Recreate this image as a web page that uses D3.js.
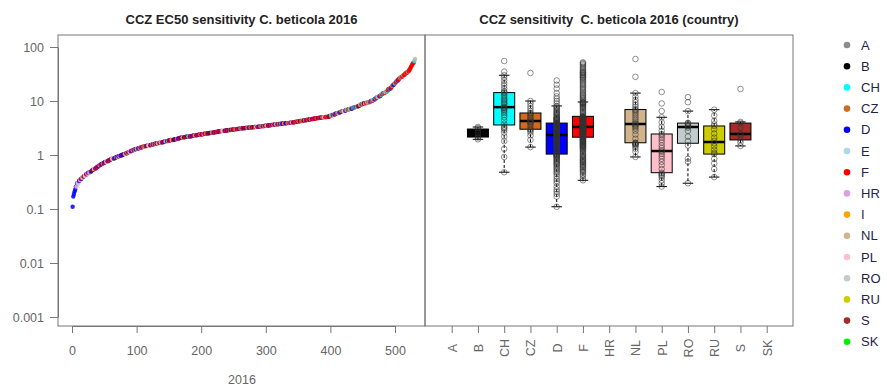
<!DOCTYPE html>
<html><head><meta charset="utf-8">
<script src="https://cdn.jsdelivr.net/npm/d3@7"></script>
<style>body{margin:0;background:#fff} svg{display:block;font-family:"Liberation Sans",Arial,sans-serif}</style>
</head><body><svg id="c" width="887" height="386"></svg>
<script>
// ---- data ----
const legendCountries = ["A","B","CH","CZ","D","E","F","HR","I","NL","PL","RO","RU","S","SK"];
const legendColors = ["#8c8c8c","#000000","#00FFFF","#D2691E","#0000FF","#ADD8E6","#FF0000","#DDA0DD","#FFA500","#D2B48C","#FFC0CB","#C1CDCD","#CDCD00","#A52A2A","#00EE00"];
const axisCountries = ["A","B","CH","CZ","D","F","HR","NL","PL","RO","RU","S","SK"];
const yTicks = [0.001, 0.01, 0.1, 1, 10, 100];
const yTickLabels = ["0.001","0.01","0.1","1","10","100"];
const xTicks = [0, 100, 200, 300, 400, 500];
const titleLeft = "CCZ EC50 sensitivity C. beticola 2016";
const titleRight = "CCZ sensitivity  C. beticola 2016 (country)";
const xLabelLeft = "2016";

const valuesB = [1.95, 2.1, 2.2, 2.55, 2.9, 3.15, 3.3];
const valuesCH = [0.48, 0.92, 1.3, 1.8, 2.2, 2.6, 2.9, 3.1, 3.25, 3.4, 3.8, 4.4, 5.0, 5.5, 6.0, 6.5, 6.9, 7.2, 7.5, 7.6,
  7.8, 8.6, 9.0, 9.5, 10.1, 10.6, 11.2, 12.1, 13.0, 14.0, 14.6, 15.2, 17.0, 19.1, 21.3, 24.0, 27.2, 30.0, 35.0, 55.0];
const valuesCZ = [1.4, 1.9, 2.3, 2.6, 2.8, 2.95, 3.0, 3.3, 3.6, 3.85, 4.0, 4.15, 4.26, 4.5, 4.8, 5.1, 5.5, 5.8, 6.0, 6.5, 7.2, 8.0, 9.0, 10.0, 33.0];
const valuesD = [0.11, 0.17, 0.19, 0.21, 0.23, 0.26, 0.3, 0.33, 0.36, 0.4, 0.44, 0.47, 0.5, 0.53, 0.56, 0.59, 0.62, 0.66, 0.68, 0.71,
  0.74, 0.77, 0.8, 0.83, 0.86, 0.89, 0.92, 0.95, 0.97, 0.99, 1.0, 1.02, 1.04,
  1.08, 1.12, 1.17, 1.21, 1.25, 1.29, 1.33, 1.37, 1.41, 1.46, 1.49, 1.53, 1.57, 1.61, 1.65, 1.69, 1.73, 1.78, 1.81, 1.85,
  1.89, 1.93, 1.97, 2.01, 2.05, 2.09, 2.14, 2.17, 2.21, 2.25, 2.29, 2.33, 2.37,
  2.42, 2.47, 2.52, 2.57, 2.62, 2.67, 2.72, 2.77, 2.82, 2.87, 2.92, 2.97, 3.02, 3.07, 3.12, 3.17, 3.22, 3.27, 3.32, 3.37,
  3.42, 3.47, 3.52, 3.57, 3.62, 3.67, 3.72, 3.76, 3.8, 3.84, 3.87, 3.9,
  3.96, 4.05, 4.15, 4.25, 4.35, 4.45, 4.55, 4.65, 4.75, 4.85, 4.95, 5.1, 5.3, 5.5, 5.7, 5.9, 6.1, 6.3, 6.6, 6.9,
  7.2, 7.5, 7.8, 8.1, 9.0, 10.0, 11.0, 12.2, 14.0, 17.0, 20.0, 24.0];
const valuesF = [0.34, 0.37, 0.41, 0.44, 0.47, 0.49, 0.52, 0.54, 0.57, 0.6, 0.61, 0.64, 0.67, 0.69, 0.72, 0.74, 0.77, 0.8, 0.82, 0.85,
  0.88, 0.92, 0.95, 0.99, 1.04, 1.08, 1.14, 1.19, 1.24, 1.28, 1.31, 1.35, 1.38, 1.42, 1.45, 1.49, 1.52, 1.55, 1.58, 1.62,
  1.65, 1.68, 1.72, 1.75, 1.79, 1.82, 1.85, 1.89, 1.92, 1.95, 1.98, 2.02, 2.05, 2.09, 2.12,
  2.15, 2.17, 2.19, 2.22, 2.24, 2.26, 2.29, 2.31, 2.33, 2.36, 2.38, 2.4, 2.43, 2.45, 2.47, 2.49, 2.51, 2.54, 2.56, 2.58,
  2.61, 2.63, 2.65, 2.67, 2.69, 2.71, 2.74, 2.76, 2.78, 2.81, 2.83, 2.85, 2.87, 2.89, 2.91, 2.93, 2.96, 2.98, 3.0, 3.02,
  3.04, 3.06, 3.08, 3.1, 3.12, 3.14, 3.16, 3.18, 3.2, 3.22, 3.24, 3.25, 3.27, 3.28, 3.3,
  3.32, 3.35, 3.37, 3.4, 3.42, 3.45, 3.48, 3.51, 3.53, 3.56, 3.59, 3.62, 3.66, 3.69, 3.72, 3.75, 3.79, 3.83, 3.86, 3.9,
  3.93, 3.97, 4.01, 4.05, 4.09, 4.13, 4.17, 4.21, 4.25, 4.29, 4.33, 4.37, 4.41, 4.45, 4.49, 4.53, 4.57, 4.61, 4.65, 4.68,
  4.72, 4.75, 4.78, 4.82, 4.85, 4.88, 4.91, 4.94, 4.97, 5.0, 5.02, 5.04, 5.06, 5.08, 5.1,
  5.3, 5.6, 5.9, 6.2, 6.5, 6.8, 7.1, 7.4, 7.7, 8.0, 8.3, 8.6, 8.8, 9.0, 9.2, 9.3, 9.5, 9.6, 10.1, 10.6,
  11.2, 11.7, 12.3, 12.8, 13.4, 14.1, 14.9, 15.8, 16.7, 17.6, 18.5, 19.6, 20.7, 21.9, 23.1, 24.3, 25.5, 26.8, 27.4, 28.2,
  29.5, 30.2, 31.0, 32.5, 33.3, 34.0, 35.5, 37.0, 39.0, 41.0, 43.0, 45.5, 48.0, 50.0, 52.0];
const valuesNL = [0.92, 1.15, 1.3, 1.42, 1.5, 1.56, 1.6, 1.64, 1.67, 1.7, 2.0, 2.4, 2.8, 3.1, 3.3, 3.5, 3.62, 3.75, 3.9, 4.2,
  4.6, 5.0, 5.5, 6.0, 6.5, 6.8, 7.1, 7.8, 8.5, 9.4, 10.5, 12.0, 14.0, 28.0, 60.0];
const valuesPL = [0.26, 0.3, 0.34, 0.38, 0.41, 0.43, 0.45, 0.47, 0.55, 0.65, 0.75, 0.85, 0.95, 1.05, 1.15, 1.22, 1.35, 1.5, 1.7, 1.9,
  2.1, 2.3, 2.45, 2.8, 3.3, 4.0, 5.0, 6.5, 9.0, 14.7];
const valuesRO = [0.3, 0.75, 0.85, 1.5, 1.8, 2.2, 2.8, 3.2, 3.4, 3.5, 3.7, 3.85, 3.95, 6.5, 9.5, 11.8];
const valuesRU = [0.39, 0.55, 0.7, 0.85, 1.04, 1.1, 1.25, 1.45, 1.65, 1.83, 2.1, 2.5, 3.0, 3.45, 3.7, 4.3, 5.4, 6.9];
const valuesS = [1.47, 1.7, 1.9, 2.2, 2.4, 2.5, 3.2, 3.9, 4.1, 16.7];

const countryValues = {A: [], B: valuesB, CH: valuesCH, CZ: valuesCZ, D: valuesD, E: [], F: valuesF, HR: [], I: [],
  NL: valuesNL, PL: valuesPL, RO: valuesRO, RU: valuesRU, S: valuesS, SK: []};
const colorOf = {}; legendCountries.forEach((c, i) => colorOf[c] = legendColors[i]);

// ---- layout ----
const svg = d3.select("#c");
const L = {x0: 58, x1: 425, y0: 35, y1: 326};
const R = {x0: 425, x1: 793, y0: 35, y1: 326};
const y = d3.scaleLog().domain([0.001, 100]).range([317, 47]);
const x1 = d3.scaleLinear().domain([0, 500]).range([72, 395]);
const xb = d3.scalePoint().domain(axisCountries).range([451.7, 766.7]);
const boxW = 21;
const axisColor = "#777", textColor = "#666";
const fontFam = '"Liberation Sans",Arial,sans-serif';

// ---- left panel ----
const all = [];
legendCountries.forEach(c => countryValues[c].forEach(v => all.push({c, v})));
all.sort((a, b) => a.v - b.v);
all.forEach((d, i) => d.i = i + 1);

svg.append("g").selectAll("circle").data(all).join("circle")
  .attr("cx", d => x1(d.i)).attr("cy", d => y(d.v)).attr("r", 2.2)
  .attr("fill", d => colorOf[d.c]).attr("fill-opacity", 0.85);

function styleAxis(g) {
  g.select(".domain").attr("stroke", axisColor);
  g.selectAll(".tick line").attr("stroke", axisColor);
  g.selectAll(".tick text").attr("fill", textColor).style("font-size", "12.5px").style("font-family", fontFam);
}
const gyl = svg.append("g").attr("transform", `translate(${L.x0},0)`)
  .call(d3.axisLeft(y).tickValues(yTicks).tickFormat((d, i) => yTickLabels[i]).tickSize(8).tickSizeOuter(0).tickPadding(6));
styleAxis(gyl);
const gxl = svg.append("g").attr("transform", `translate(0,${L.y1})`)
  .call(d3.axisBottom(x1).tickValues(xTicks).tickFormat(d3.format("d")).tickSize(7).tickSizeOuter(0).tickPadding(13));
styleAxis(gxl);

svg.append("rect").attr("x", L.x0).attr("y", L.y0).attr("width", L.x1 - L.x0).attr("height", L.y1 - L.y0)
  .attr("fill", "none").attr("stroke", axisColor);
svg.append("text").attr("x", (L.x0 + L.x1) / 2).attr("y", 24).attr("text-anchor", "middle")
  .style("font-size", "13px").style("font-weight", "bold").attr("fill", "#222").text(titleLeft);
svg.append("text").attr("x", 242).attr("y", 384).attr("text-anchor", "middle")
  .style("font-size", "12.5px").attr("fill", textColor).text(xLabelLeft);

// ---- right panel: boxplots ----
function fivenum(arr) {
  const x = arr.slice().sort((a, b) => a - b), n = x.length;
  const n4 = Math.floor((n + 3) / 2) / 2;
  const d = [1, n4, (n + 1) / 2, n + 1 - n4, n];
  return d.map(k => 0.5 * (x[Math.floor(k) - 1] + x[Math.ceil(k) - 1]));
}
const gb = svg.append("g");
axisCountries.forEach(c => {
  const vals = countryValues[c];
  if (!vals.length) return;
  const f = fivenum(vals);
  const iqr = f[3] - f[1];
  const hiW = d3.max(vals.filter(v => v <= f[3] + 1.5 * iqr));
  const loW = d3.min(vals.filter(v => v >= f[1] - 1.5 * iqr));
  const cx = xb(c);
  const g = gb.append("g");
  g.append("line").attr("x1", cx).attr("x2", cx).attr("y1", y(f[3])).attr("y2", y(hiW))
    .attr("stroke", "#000").attr("stroke-dasharray", "3,2");
  g.append("line").attr("x1", cx).attr("x2", cx).attr("y1", y(f[1])).attr("y2", y(loW))
    .attr("stroke", "#000").attr("stroke-dasharray", "3,2");
  [hiW, loW].forEach(w => g.append("line").attr("x1", cx - boxW / 4).attr("x2", cx + boxW / 4)
    .attr("y1", y(w)).attr("y2", y(w)).attr("stroke", "#000"));
  g.append("rect").attr("x", cx - boxW / 2).attr("width", boxW)
    .attr("y", y(f[3])).attr("height", y(f[1]) - y(f[3]))
    .attr("fill", colorOf[c]).attr("stroke", "#000");
  g.append("line").attr("x1", cx - boxW / 2).attr("x2", cx + boxW / 2).attr("y1", y(f[2])).attr("y2", y(f[2]))
    .attr("stroke", "#000").attr("stroke-width", 2.5);
});
const pts = [];
axisCountries.forEach(c => countryValues[c].forEach(v => pts.push({c, v})));
svg.append("g").selectAll("circle").data(pts).join("circle")
  .attr("cx", d => xb(d.c)).attr("cy", d => y(d.v)).attr("r", 2.8)
  .attr("fill", "none").attr("stroke", "#333").attr("stroke-opacity", 0.6).attr("stroke-width", 0.9);

const gxr = svg.append("g").attr("transform", `translate(0,${R.y1})`)
  .call(d3.axisBottom(xb).tickSize(7).tickSizeOuter(0));
styleAxis(gxr);
gxr.select(".domain").remove();
gxr.selectAll(".tick text").attr("y", 0).attr("dy", "0.35em")
  .attr("transform", "translate(0,22) rotate(-90)").style("text-anchor", "middle");

svg.append("rect").attr("x", R.x0).attr("y", R.y0).attr("width", R.x1 - R.x0).attr("height", R.y1 - R.y0)
  .attr("fill", "none").attr("stroke", axisColor);
svg.append("text").attr("x", (R.x0 + R.x1) / 2).attr("y", 24).attr("text-anchor", "middle")
  .attr("xml:space", "preserve").style("white-space", "pre")
  .style("font-size", "13px").style("font-weight", "bold").attr("fill", "#222").text(titleRight);

// ---- legend ----
const lg = svg.append("g");
legendCountries.forEach((c, i) => {
  const ly = 45 + i * 21.2;
  lg.append("circle").attr("cx", 847).attr("cy", ly).attr("r", 3.3).attr("fill", legendColors[i]);
  lg.append("text").attr("x", 861).attr("y", ly).attr("dy", "0.36em")
    .style("font-size", "13px").attr("fill", "#1f2447").text(c);
});
</script></body></html>
